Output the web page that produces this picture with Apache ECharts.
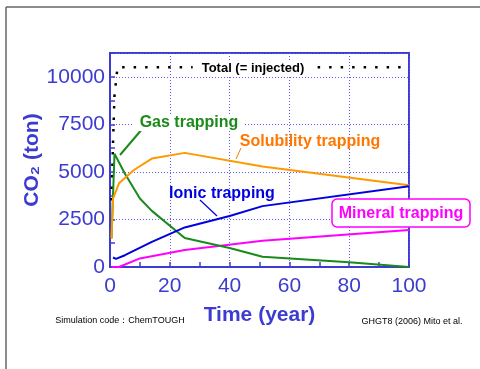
<!DOCTYPE html>
<html><head><meta charset="utf-8">
<script src="https://cdn.jsdelivr.net/npm/echarts@6/dist/echarts.min.js"></script>
<style>html,body{margin:0;padding:0;background:#fff}#c{width:480px;height:369px}</style>
</head><body><div id="c"></div>
<script>
// Data (Time in years, CO2 in tons)
const totalData   = [[0.5,3500],[1,6500],[1.5,9000],[2.5,10500],[100,10500]];
const gasData     = [[0.5,1500],[1.5,5950],[5,4900],[10,3600],[14,2950],[25,1520],[40,1000],[51,540],[80,250],[100,0]];
const solubData   = [[0.5,1500],[1,3600],[3,4400],[8,5100],[14,5700],[25,6000],[51,5280],[100,4300]];
const ionicData   = [[1,500],[2,430],[5,620],[14,1320],[25,2080],[40,2680],[51,3200],[100,4240]];
const mineralData = [[0.5,0],[3,0],[10,450],[25,890],[51,1380],[100,1950]];
const xTicks = [0,20,40,60,80,100];
const yTicks = [0,2500,5000,7500,10000];

const F = 'Liberation Sans, Arial, sans-serif';
const axisBlue = '#3c3cd0';
const gridBlue = '#5a5aff';
const chart = echarts.init(document.getElementById('c'), null, {renderer:'canvas'});
const line = (name, data, color, extra) => Object.assign({
  name, type:'line', data, showSymbol:false, symbol:'none', z:3,
  lineStyle:{color, width:2}, itemStyle:{color}, animation:false
}, extra||{});

chart.setOption({
  animation:false,
  backgroundColor:'#fff',
  grid:{left:110, right:71, top:53, bottom:102, show:true, borderColor:axisBlue, borderWidth:2},
  xAxis:{type:'value', min:xTicks[0], max:xTicks[xTicks.length-1], interval:20,
    axisLine:{lineStyle:{color:axisBlue, width:2}},
    axisTick:{inside:true, length:5, lineStyle:{color:axisBlue, width:1.5}},
    minorTick:{show:true, splitNumber:2, length:5, lineStyle:{color:axisBlue, width:1.5}},
    axisLabel:{color:axisBlue, fontSize:21, fontFamily:F, margin:9},
    splitLine:{show:true, lineStyle:{color:gridBlue, type:[1,2], width:1}},
    name:'Time (year)', nameLocation:'middle', nameGap:38,
    nameTextStyle:{color:axisBlue, fontSize:21, fontWeight:'bold', fontFamily:F}
  },
  yAxis:{type:'value', min:yTicks[0], max:11250, interval:2500,
    axisLine:{lineStyle:{color:axisBlue, width:2}},
    axisTick:{inside:true, length:5, lineStyle:{color:axisBlue, width:1.5}},
    minorTick:{show:true, splitNumber:2, length:5, lineStyle:{color:axisBlue, width:1.5}},
    axisLabel:{color:axisBlue, fontSize:21, fontFamily:F, margin:5, showMaxLabel:false,
      formatter: v => String(v)},
    splitLine:{show:true, lineStyle:{color:gridBlue, type:[1,2], width:1}}
  },
  series:[
    line('Total', totalData, '#000', {lineStyle:{color:'#000', width:2.5, type:[2.5,9]}, z:2}),
    line('Mineral trapping', mineralData, '#ff00ff'),
    line('Gas trapping', gasData, '#1a8a1a'),
    line('Solubility trapping', solubData, '#ff9900'),
    line('Ionic trapping', ionicData, '#0000e0')
  ],
  graphic:[
    {type:'line', shape:{x1:6,y1:7,x2:6,y2:369}, style:{stroke:'#666', lineWidth:1.5}},
    {type:'line', shape:{x1:6,y1:7,x2:480,y2:7}, style:{stroke:'#666', lineWidth:1.5}},
    {type:'text', x:32, y:160, rotation:Math.PI/2, z:10, style:{text:'CO\u2082 (ton)', font:'bold 21px '+F, fill:axisBlue, align:'center', verticalAlign:'middle'}},
    {type:'text', x:253, y:68, z:10, style:{text:'Total (= injected)', font:'bold 13px '+F, fill:'#000', align:'center', verticalAlign:'middle', backgroundColor:'#fff', padding:[1,9]}},
    {type:'line', z:10, shape:{x1:120,y1:155,x2:143,y2:128}, style:{stroke:'#1a8a1a', lineWidth:2}},
    {type:'text', z:10, x:189, y:123, style:{text:'Gas trapping', font:'bold 16px '+F, fill:'#1a8a1a', align:'center', verticalAlign:'middle', backgroundColor:'#fff', padding:[0,6]}},
    {type:'line', z:10, shape:{x1:241,y1:148,x2:236,y2:159}, style:{stroke:'#ff7700', lineWidth:1}},
    {type:'text', z:10, x:310, y:142, style:{text:'Solubility trapping', font:'bold 16px '+F, fill:'#ff7700', align:'center', verticalAlign:'middle'}},
    {type:'line', z:10, shape:{x1:200,y1:200,x2:217,y2:216}, style:{stroke:'#0000e0', lineWidth:1.2}},
    {type:'text', z:10, x:222, y:194, style:{text:'Ionic trapping', font:'bold 16px '+F, fill:'#0000e0', align:'center', verticalAlign:'middle'}},
    {type:'rect', z:10, shape:{x:332,y:199,width:138,height:28,r:5}, style:{fill:'#fff', stroke:'#ff00ff', lineWidth:1.5}},
    {type:'text', z:11, x:401, y:214, style:{text:'Mineral trapping', font:'bold 16px '+F, fill:'#ff00ff', align:'center', verticalAlign:'middle'}},
    {type:'text', z:10, x:120, y:321, style:{text:'Simulation code\uff1aChemTOUGH', font:'9px '+F, fill:'#000', align:'center', verticalAlign:'middle'}},
    {type:'text', z:10, x:412, y:322, style:{text:'GHGT8 (2006) Mito et al.', font:'9px '+F, fill:'#000', align:'center', verticalAlign:'middle'}}
  ]
});
</script></body></html>
